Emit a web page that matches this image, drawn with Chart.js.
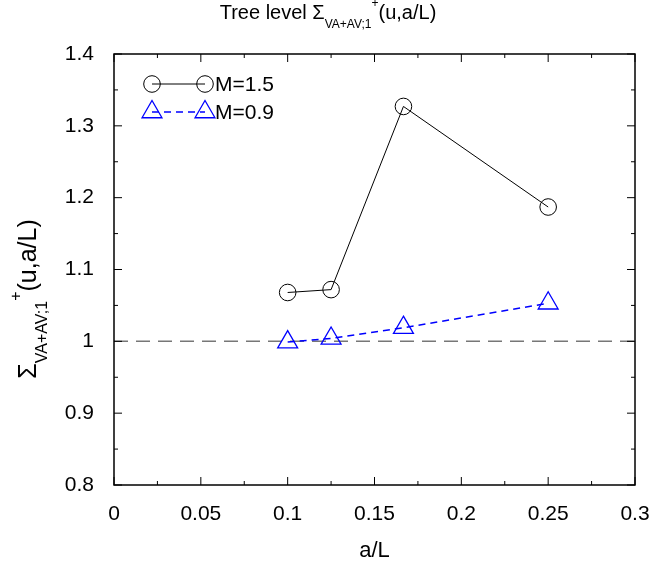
<!DOCTYPE html>
<html>
<head>
<meta charset="utf-8">
<script src="https://cdn.jsdelivr.net/npm/chart.js@4.4.1/dist/chart.umd.min.js"></script>
<style>
  html, body { margin: 0; padding: 0; background: #fff; }
  #wrap { width: 668px; height: 564px; }
</style>
</head>
<body>
<div id="wrap"><canvas id="plot" width="668" height="564"></canvas></div>
<script>
// data
const aOverL = [0.1, 0.125, 1 / 6, 0.25];
const sigmaM15 = [1.068, 1.072, 1.327, 1.187];
const sigmaM09 = [0.999, 1.004, 1.019, 1.053];
const seriesLabels = ['M=1.5', 'M=0.9'];
const refLevel = 1;
const xRange = [0, 0.3];
const yRange = [0.8, 1.4];

const FONT = '"Liberation Sans", Arial, Helvetica, sans-serif';

const pts = (xs, ys) => xs.map((x, i) => ({ x: x, y: ys[i] }));

// texte avec indices / exposants, centré sur cx
function drawRich(ctx, parts, cx, baseY, size, small) {
    let total = 0;
    parts.forEach(p => {
        ctx.font = (p.k === 'n' ? size : small) + 'px ' + FONT;
        p.w = ctx.measureText(p.t).width;
        total += p.w;
    });
    let x = cx - total / 2;
    ctx.textAlign = 'left';
    ctx.textBaseline = 'alphabetic';
    parts.forEach(p => {
        ctx.font = (p.k === 'n' ? size : small) + 'px ' + FONT;
        const dy = p.k === 'sub' ? size * 0.45 : p.k === 'sup' ? -size * 0.62 : 0;
        ctx.fillText(p.t, x, baseY + dy);
        x += p.w;
    });
}

const sigmaParts = () => [
    { t: '\u03A3', k: 'n' },
    { t: 'VA+AV;1', k: 'sub' },
    { t: '+', k: 'sup' },
    { t: '(u,a/L)', k: 'n' }
];

function drawMarker(ctx, ds, x, y) {
    ctx.save();
    ctx.strokeStyle = ds.pointBorderColor;
    ctx.lineWidth = ds.pointBorderWidth;
    ctx.setLineDash([]);
    const r = ds.pointRadius;
    ctx.beginPath();
    if (ds.pointStyle === 'triangle') {
        let a = 0;
        ctx.moveTo(x + Math.sin(a) * r, y - Math.cos(a) * r);
        a += 2 * Math.PI / 3;
        ctx.lineTo(x + Math.sin(a) * r, y - Math.cos(a) * r);
        a += 2 * Math.PI / 3;
        ctx.lineTo(x + Math.sin(a) * r, y - Math.cos(a) * r);
        ctx.closePath();
    } else {
        ctx.arc(x, y, r, 0, Math.PI * 2);
    }
    ctx.stroke();
    ctx.restore();
}

const decorPlugin = {
    id: 'decor',
    afterDraw(chart) {
        const ctx = chart.ctx;
        const a = chart.chartArea;
        const xs = chart.scales.x, ys = chart.scales.y;
        ctx.save();

        // cadre
        ctx.strokeStyle = '#000';
        ctx.lineWidth = 1.5;
        ctx.strokeRect(a.left, a.top, a.right - a.left, a.bottom - a.top);

        // graduations vers l'intérieur, sur les 4 côtés
        ctx.lineWidth = 1;
        const major = 8, minor = 4;
        const tickX = (v, len) => {
            const px = xs.getPixelForValue(v);
            ctx.moveTo(px, a.bottom); ctx.lineTo(px, a.bottom - len);
            ctx.moveTo(px, a.top); ctx.lineTo(px, a.top + len);
        };
        const tickY = (v, len) => {
            const py = ys.getPixelForValue(v);
            ctx.moveTo(a.left, py); ctx.lineTo(a.left + len, py);
            ctx.moveTo(a.right, py); ctx.lineTo(a.right - len, py);
        };
        ctx.beginPath();
        xs.ticks.forEach((t, i) => {
            tickX(t.value, major);
            if (i > 0) tickX((t.value + xs.ticks[i - 1].value) / 2, minor);
        });
        ys.ticks.forEach((t, i) => {
            tickY(t.value, major);
            if (i > 0) tickY((t.value + ys.ticks[i - 1].value) / 2, minor);
        });
        ctx.stroke();

        // titres
        ctx.fillStyle = '#000';
        drawRich(ctx, [{ t: 'Tree level ', k: 'n' }].concat(sigmaParts()), 328, 19, 20, 12);

        ctx.font = '22px ' + FONT;
        ctx.textAlign = 'center';
        ctx.textBaseline = 'alphabetic';
        ctx.fillText('a/L', (a.left + a.right) / 2, 557);

        ctx.save();
        ctx.translate(36, 299);
        ctx.rotate(-Math.PI / 2);
        drawRich(ctx, sigmaParts(), 0, 0, 25, 16);
        ctx.restore();

        // légende
        const lx1 = a.left + 38, lx2 = a.left + 91;
        [0, 1].forEach(i => {
            const ds = chart.data.datasets[i];
            const ly = a.top + 30 + i * 28;
            ctx.save();
            ctx.strokeStyle = ds.borderColor;
            ctx.lineWidth = ds.borderWidth;
            ctx.setLineDash(ds.borderDash || []);
            ctx.beginPath();
            ctx.moveTo(lx1, ly); ctx.lineTo(lx2, ly);
            ctx.stroke();
            ctx.restore();
            drawMarker(ctx, ds, lx1, ly);
            drawMarker(ctx, ds, lx2, ly);
            ctx.fillStyle = '#000';
            ctx.font = '21px ' + FONT;
            ctx.textAlign = 'left';
            ctx.textBaseline = 'middle';
            ctx.fillText(ds.label, lx2 + 10, ly + 1);
        });

        ctx.restore();
    }
};

new Chart(document.getElementById('plot'), {
    type: 'scatter',
    data: {
        datasets: [{
            label: seriesLabels[0],
            data: pts(aOverL, sigmaM15),
            showLine: true,
            borderColor: '#000',
            borderWidth: 1,
            pointStyle: 'circle',
            pointRadius: 8.3,
            pointBorderColor: '#000',
            pointBorderWidth: 1,
            pointBackgroundColor: 'rgba(0,0,0,0)'
        }, {
            label: seriesLabels[1],
            data: pts(aOverL, sigmaM09),
            showLine: true,
            borderColor: '#0000ff',
            borderWidth: 1.5,
            borderDash: [7, 5],
            pointStyle: 'triangle',
            pointRadius: 11.5,
            pointBorderColor: '#0000ff',
            pointBorderWidth: 1.3,
            pointBackgroundColor: 'rgba(0,0,0,0)'
        }, {
            label: 'ref',
            data: [{ x: xRange[0], y: refLevel }, { x: xRange[1], y: refLevel }],
            showLine: true,
            borderColor: '#777',
            borderWidth: 1.5,
            borderDash: [14, 8],
            pointRadius: 0,
            order: 5
        }]
    },
    options: {
        responsive: false,
        animation: false,
        layout: { padding: { top: 54, right: 33, bottom: 0, left: 0 } },
        plugins: {
            legend: { display: false },
            tooltip: { enabled: false },
            title: { display: false }
        },
        scales: {
            x: {
                type: 'linear',
                min: xRange[0], max: xRange[1],
                grid: { display: false },
                border: { display: false },
                afterFit: s => { s.height = 79; },
                ticks: {
                    stepSize: 0.05,
                    padding: 9,
                    color: '#000',
                    font: { family: FONT, size: 21 },
                    maxRotation: 0,
                    callback: v => String(+v.toFixed(2))
                }
            },
            y: {
                type: 'linear',
                min: yRange[0], max: yRange[1],
                grid: { display: false },
                border: { display: false },
                afterFit: s => { s.width = 114; },
                ticks: {
                    stepSize: 0.1,
                    padding: 12,
                    color: '#000',
                    font: { family: FONT, size: 21 },
                    callback: v => String(+v.toFixed(1))
                }
            }
        }
    },
    plugins: [decorPlugin]
});
</script>
</body>
</html>
